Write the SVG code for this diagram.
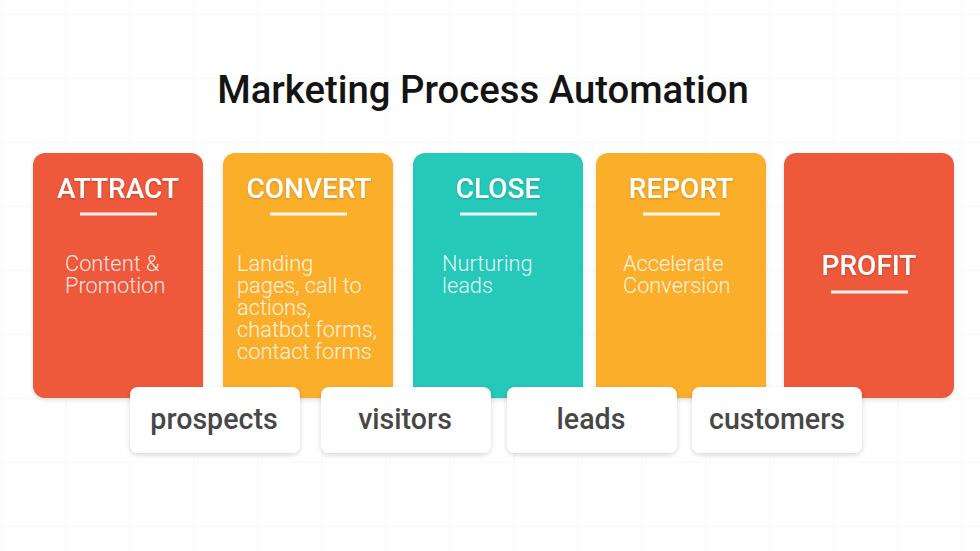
<svg xmlns="http://www.w3.org/2000/svg" width="980" height="551" viewBox="0 0 980 551">
<defs>
<pattern id="grid" x="2" y="14" width="64" height="64" patternUnits="userSpaceOnUse">
<path d="M0 0H64M0 0V64" stroke="#f8f8f8" stroke-width="2" fill="none"/>
</pattern>
<filter id="cs" x="-10%" y="-10%" width="120%" height="120%">
<feDropShadow dx="0" dy="2" stdDeviation="2" flood-color="#000" flood-opacity="0.12"/>
</filter>
<filter id="bs" x="-10%" y="-20%" width="120%" height="140%">
<feDropShadow dx="0" dy="2" stdDeviation="2.5" flood-color="#000" flood-opacity="0.16"/>
</filter>
<filter id="ts" x="-10%" y="-20%" width="120%" height="140%">
<feDropShadow dx="0" dy="1" stdDeviation="1" flood-color="#000" flood-opacity="0.2"/>
</filter>
</defs>
<style>
.head{font-family:Roboto,"Liberation Sans",sans-serif;font-weight:500;font-size:28px;fill:#fff;text-anchor:middle}
.desc{font-family:Roboto,"Liberation Sans",sans-serif;font-weight:300;font-size:21.8px;fill:#fff;fill-opacity:0.88}
.lab{font-family:Roboto,"Liberation Sans",sans-serif;font-weight:500;font-size:28.6px;fill:#474747;text-anchor:middle}
.ul{stroke:#fff;stroke-width:3;stroke-opacity:0.92}
.box{fill:#fff}
</style>
<rect width="980" height="551" fill="#fff"/>
<rect width="980" height="551" fill="url(#grid)"/>
<text x="483" y="103" font-family="Roboto,'Liberation Sans',sans-serif" font-weight="500" font-size="38.3" fill="#141414" text-anchor="middle">Marketing Process Automation</text>

<g id="attract">
<rect x="33" y="153" width="170" height="245" rx="12" fill="#ee593b" filter="url(#cs)"/>
<text class="head" x="118" y="198" filter="url(#ts)">ATTRACT</text>
<line class="ul" x1="80" y1="214" x2="157" y2="214"/>
<text class="desc"><tspan x="65" y="271">Content &amp;</tspan><tspan x="65" y="293">Promotion</tspan></text>
</g>
<g id="convert">
<rect x="223" y="153" width="170" height="245" rx="12" fill="#fbae2c" filter="url(#cs)"/>
<text class="head" x="309" y="198" filter="url(#ts)">CONVERT</text>
<line class="ul" x1="270" y1="214" x2="347" y2="214"/>
<text class="desc"><tspan x="237" y="271">Landing</tspan><tspan x="237" y="293">pages, call to</tspan><tspan x="237" y="315">actions,</tspan><tspan x="237" y="337">chatbot forms,</tspan><tspan x="237" y="359">contact forms</tspan></text>
</g>
<g id="close">
<rect x="413" y="153" width="170" height="245" rx="12" fill="#28c8ba" filter="url(#cs)"/>
<text class="head" x="498" y="198" filter="url(#ts)">CLOSE</text>
<line class="ul" x1="460" y1="214" x2="537" y2="214"/>
<text class="desc"><tspan x="442" y="271">Nurturing</tspan><tspan x="442" y="293">leads</tspan></text>
</g>
<g id="report">
<rect x="596" y="153" width="170" height="245" rx="12" fill="#fbae2c" filter="url(#cs)"/>
<text class="head" x="681" y="198" filter="url(#ts)">REPORT</text>
<line class="ul" x1="643" y1="214" x2="720" y2="214"/>
<text class="desc"><tspan x="623" y="271">Accelerate</tspan><tspan x="623" y="293">Conversion</tspan></text>
</g>
<g id="profit">
<rect x="784" y="153" width="170" height="245" rx="12" fill="#ee593b" filter="url(#cs)"/>
<text class="head" x="869" y="275" filter="url(#ts)">PROFIT</text>
<line class="ul" x1="831" y1="292" x2="908" y2="292"/>
</g>

<g id="prospects">
<rect class="box" x="130" y="387" width="170" height="66" rx="8" filter="url(#bs)"/>
<text class="lab" x="214" y="429">prospects</text>
</g>
<g id="visitors">
<rect class="box" x="321" y="387" width="170" height="66" rx="8" filter="url(#bs)"/>
<text class="lab" x="405" y="429">visitors</text>
</g>
<g id="leads">
<rect class="box" x="507" y="387" width="170" height="66" rx="8" filter="url(#bs)"/>
<text class="lab" x="591" y="429">leads</text>
</g>
<g id="customers">
<rect class="box" x="692" y="387" width="170" height="66" rx="8" filter="url(#bs)"/>
<text class="lab" x="777" y="429">customers</text>
</g>
<g id="connectors"></g>
</svg>
